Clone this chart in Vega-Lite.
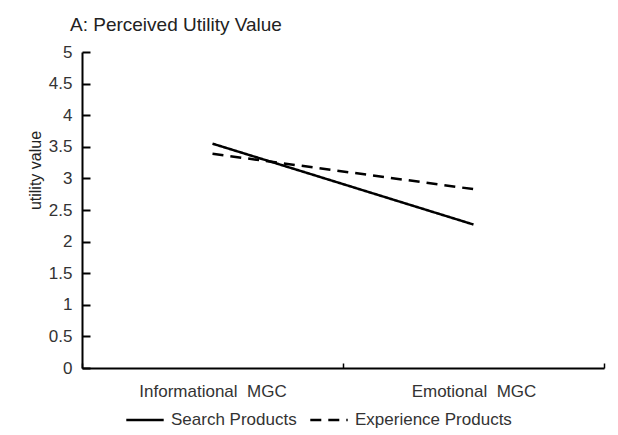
{
  "$schema": "https://vega.github.io/schema/vega-lite/v6.json",
  "width": 522,
  "height": 316,
  "autosize": "none",
  "padding": {"left": 82, "top": 52, "right": 14, "bottom": 67},
  "background": "white",
  "config": {
    "font": "Liberation Sans",
    "view": {"stroke": null}
  },
  "title": {
    "text": "A: Perceived Utility Value",
    "anchor": "start",
    "frame": "group",
    "dx": -12,
    "offset": 8,
    "fontSize": 19,
    "fontWeight": "normal",
    "color": "#222"
  },
  "data": {
    "values": [
      {"mgc": "Informational  MGC", "product": "Search Products", "value": 3.55},
      {"mgc": "Emotional  MGC", "product": "Search Products", "value": 2.27},
      {"mgc": "Informational  MGC", "product": "Experience Products", "value": 3.39},
      {"mgc": "Emotional  MGC", "product": "Experience Products", "value": 2.83}
    ]
  },
  "mark": {"type": "line", "color": "black", "strokeWidth": 2.5},
  "encoding": {
    "x": {
      "field": "mgc",
      "type": "nominal",
      "sort": ["Informational  MGC", "Emotional  MGC"],
      "scale": {"paddingInner": 0, "paddingOuter": 0},
      "axis": {
        "title": null,
        "labelAngle": 0,
        "labelExpr": "replace(datum.label, '  ', '\u00a0\u00a0')",
        "tickBand": "extent",
        "tickSize": -5,
        "tickColor": "black",
        "tickWidth": 1.5,
        "domainColor": "black",
        "domainWidth": 2,
        "labelFontSize": 17,
        "labelColor": "#333",
        "labelPadding": 20
      }
    },
    "y": {
      "field": "value",
      "type": "quantitative",
      "scale": {"domain": [0, 5], "nice": false},
      "axis": {
        "values": [0, 0.5, 1, 1.5, 2, 2.5, 3, 3.5, 4, 4.5, 5],
        "format": "~g",
        "grid": false,
        "title": "utility value",
        "titleFontSize": 16,
        "titleFontWeight": "normal",
        "titleColor": "#222",
        "titleX": -47,
        "titleY": 118,
        "titleAngle": -90,
        "titleAlign": "center",
        "titleBaseline": "middle",
        "tickSize": -8,
        "tickColor": "black",
        "tickWidth": 2,
        "domainColor": "black",
        "domainWidth": 2,
        "labelFontSize": 17,
        "labelColor": "#333",
        "labelPadding": 18
      }
    },
    "strokeDash": {
      "field": "product",
      "type": "nominal",
      "scale": {
        "domain": ["Search Products", "Experience Products"],
        "range": [[1, 0], [11, 7]]
      },
      "legend": {
        "title": null,
        "orient": "none",
        "direction": "horizontal",
        "legendX": 43,
        "legendY": 348,
        "symbolType": "stroke",
        "symbolSize": 1400,
        "symbolStrokeWidth": 2.5,
        "symbolStrokeColor": "black",
        "labelFontSize": 17,
        "labelColor": "#333",
        "columnPadding": 8,
        "labelOffset": 6
      }
    }
  }
}
